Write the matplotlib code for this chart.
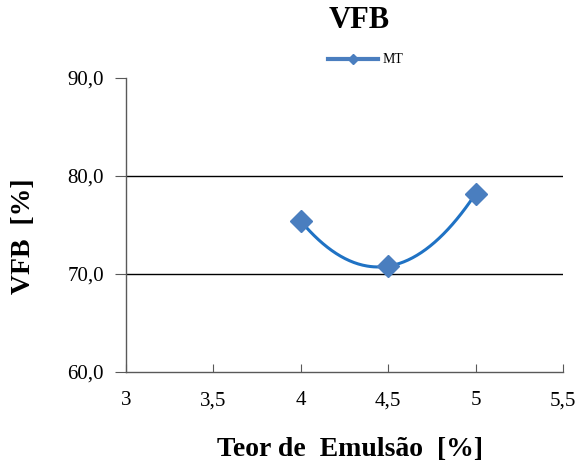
import numpy as np
import matplotlib
matplotlib.use("Agg")
import matplotlib.pyplot as plt
from matplotlib.lines import Line2D

teor = [4.0, 4.5, 5.0]
vfb = [75.4, 70.8, 78.2]
series_name = "MT"
xticks = [3, 3.5, 4, 4.5, 5, 5.5]
yticks = [60, 70, 80, 90]

plt.rcParams['font.family'] = ['Liberation Serif', 'DejaVu Serif']

fig = plt.figure(figsize=(5.77, 4.66), dpi=100)
ax = fig.add_axes([126/577, 1-372/466, (563-126)/577, (372-78)/466])
ax.set_xlim(3, 5.5)
ax.set_ylim(60, 90)

for g in [70, 80]:
    ax.axhline(g, color='black', lw=1.0, zorder=1)

ax.spines['top'].set_visible(False)
ax.spines['right'].set_visible(False)
for s in ['left', 'bottom']:
    ax.spines[s].set_color('#595959')
    ax.spines[s].set_linewidth(1.0)

ax.set_xticks(xticks)
ax.set_xticklabels([f"{v:g}".replace('.', ',') for v in xticks])
ax.set_yticks(yticks)
ax.set_yticklabels([f"{v:.1f}".replace('.', ',') for v in yticks])
ax.tick_params(axis='y', direction='out', length=8, color='#595959', labelsize=15, pad=8)
ax.tick_params(axis='x', direction='in', length=6, color='#595959', labelsize=15, pad=14)

# smoothed line (Hermite/Bezier in display space)
fig.canvas.draw()
pts = ax.transData.transform(np.column_stack([teor, vfb]))
n = len(pts)
m = np.zeros_like(pts)
for i in range(1, n - 1):
    m[i] = (pts[i + 1] - pts[i - 1]) / 2
if n > 2:
    m[0] = 2 * (pts[1] - pts[0]) - m[1]
    m[-1] = 2 * (pts[-1] - pts[-2]) - m[-2]
else:
    m[0] = m[-1] = pts[-1] - pts[0]
curve = []
t = np.linspace(0, 1, 80)[:, None]
for i in range(n - 1):
    p0 = pts[i]; p3 = pts[i + 1]
    c1 = p0 + m[i] / 3
    c2 = p3 - m[i + 1] / 3
    seg = (1 - t)**3 * p0 + 3 * (1 - t)**2 * t * c1 + 3 * (1 - t) * t**2 * c2 + t**3 * p3
    curve.append(seg)
curve = np.vstack(curve)
curve_data = ax.transData.inverted().transform(curve)
ax.plot(curve_data[:, 0], curve_data[:, 1], color='#1F72C4', lw=2.2, zorder=3)
ax.plot(teor, vfb, linestyle='none', marker='D', markersize=11, color='#4A7EBF', zorder=4)

ax.set_xlabel("Teor de  Emulsão  [%]", fontsize=20, fontweight='bold')
ax.xaxis.set_label_coords((350-126)/437, (372-449)/294)
ax.xaxis.label.set_va('center')
ax.set_ylabel("VFB  [%]", fontsize=20, fontweight='bold')
ax.yaxis.set_label_coords((24-126)/437, (372-236)/294)
ax.yaxis.label.set_va('center')
fig.text(359/577, 1-21/466, "VFB", ha='center', va='center', fontsize=22, fontweight='bold')

handle = Line2D([], [], color='#4A7EBF', lw=3, marker='D', markersize=5)
leg = fig.legend([handle], [series_name], loc='center left', bbox_to_anchor=(328/577, 1-60/466),
                 frameon=False, fontsize=10, handlelength=3.6, handletextpad=0.3,
                 borderpad=0, borderaxespad=0)

fig.savefig("out.png", dpi=100)
